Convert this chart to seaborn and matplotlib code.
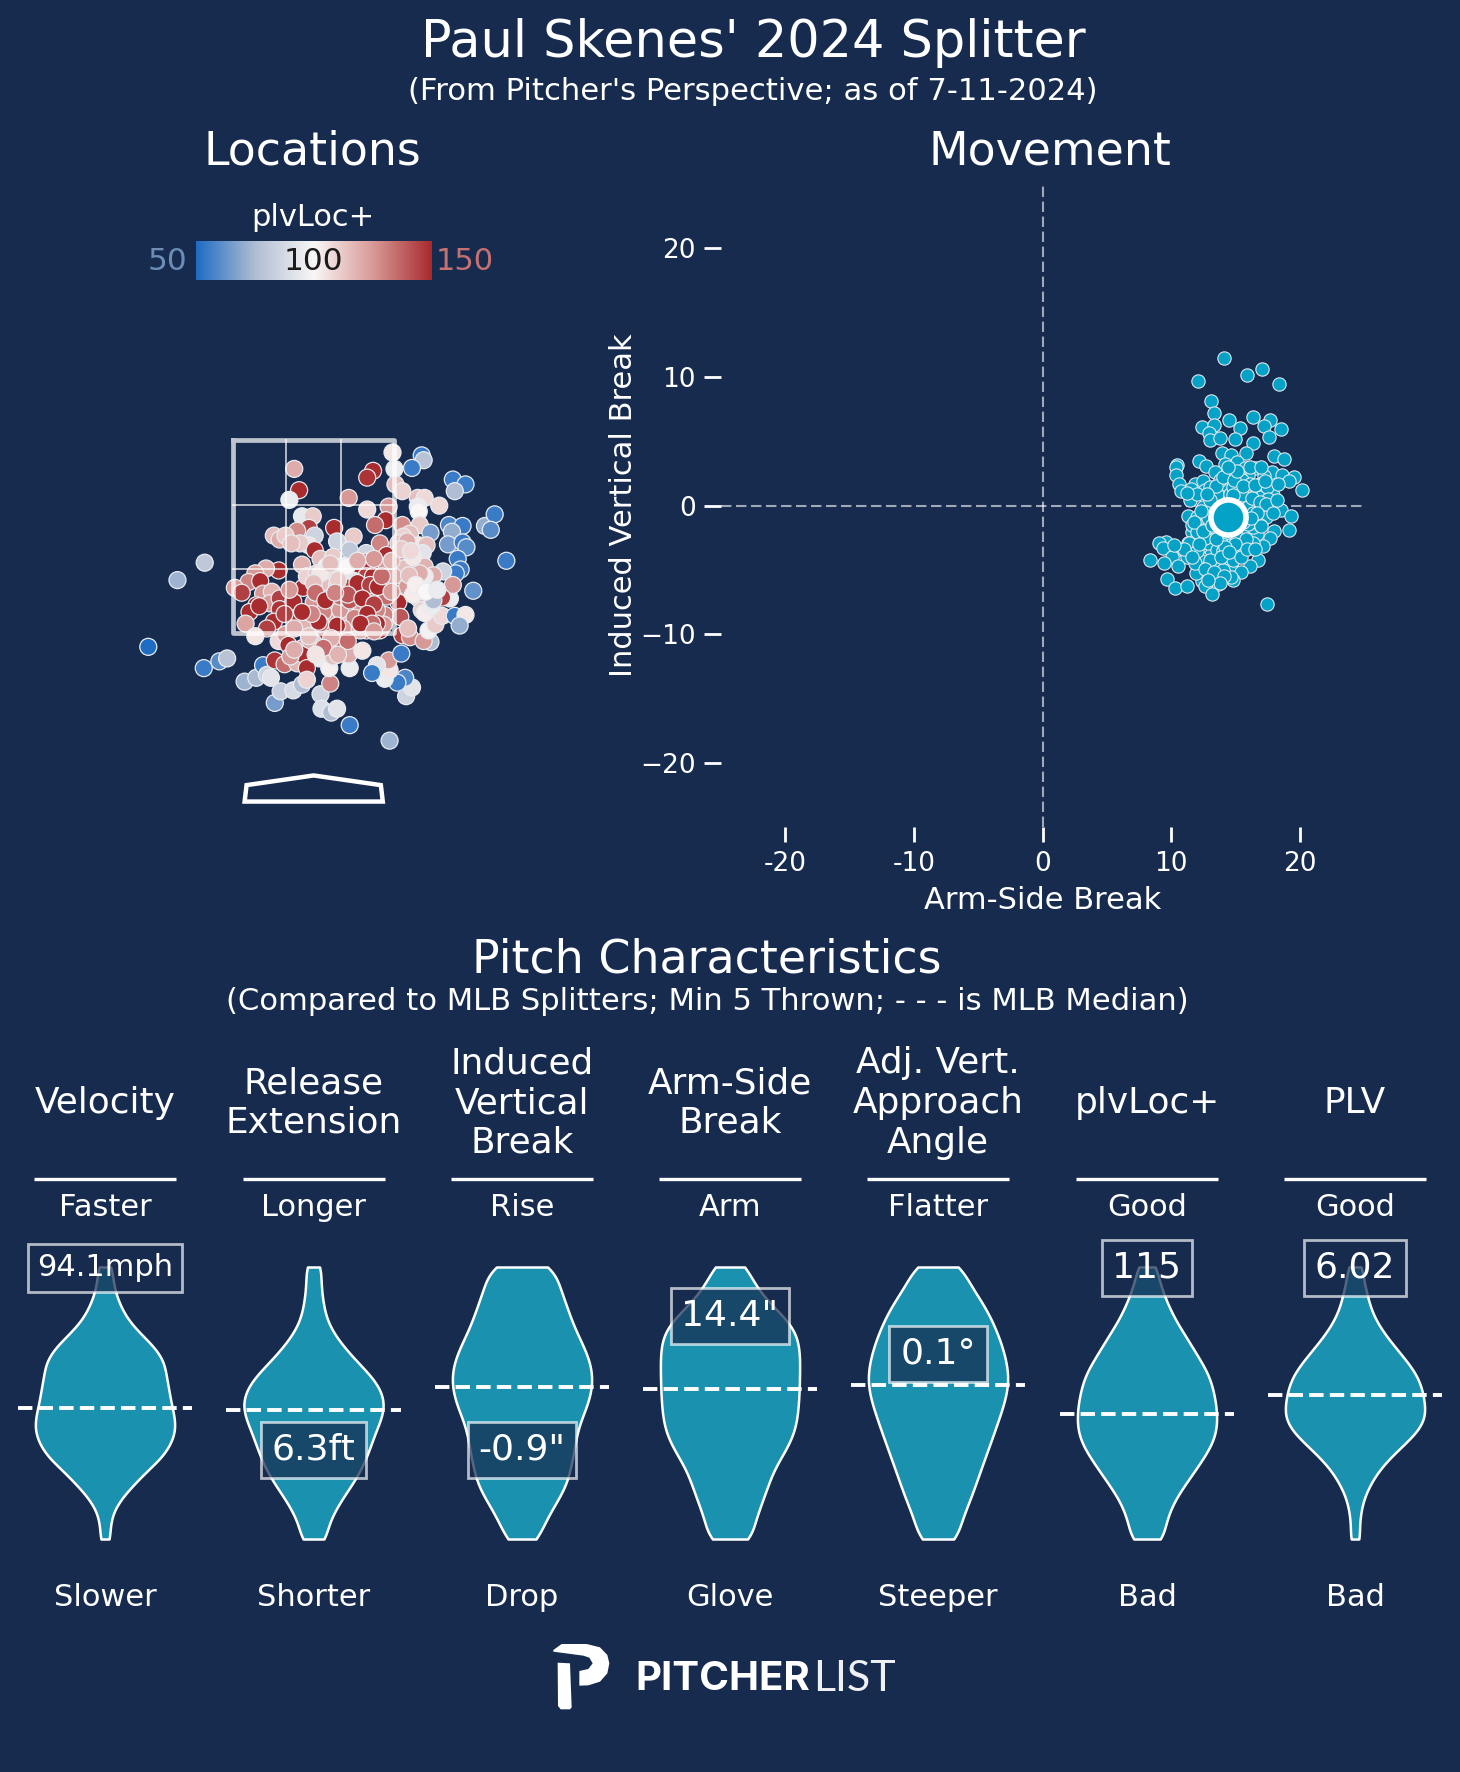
"""Paul Skenes 2024 splitter card: locations, movement and pitch characteristic violins."""
import matplotlib
matplotlib.use("Agg")
import matplotlib.pyplot as plt
import numpy as np
import seaborn as sns
from matplotlib.patches import Polygon

W, H = 1460, 1772
BG = "#172b4f"
TEAL = "#1a91ae"
DOT = "#03a2c6"

# pitch locations, feet from centre of plate and feet above ground, with plvLoc+ grade
loc_x = [-1.70, -1.40, -1.12, -1.13, -0.97, -0.89, -0.71, -0.59, -0.52, -0.48, -0.44, -0.40, -0.34, -0.21, -0.12,
         0.07, 0.08, 0.18, 0.24, 0.37, 0.78, 0.95, 1.01, 0.94, 0.86, 0.73, 0.78, 0.77, 0.65, 0.60, 0.90, 0.37, 0.17,
         0.06, 0.16, 0.81, 1.11, 1.13, 1.01, 0.83, 0.61, 0.55, -0.20, -0.15, 0.84, 0.91, 0.36, -0.25, 1.43, 1.56, 1.45,
         1.07, 1.14, 1.29, 1.07, 1.08, 0.55, 0.77, -0.12, -0.01, 0.74, 0.63, 0.91, 1.09, 1.39, 1.53, 1.42, 1.20, -0.05,
         -0.17, 0.21, -0.41, -0.35, -0.29, 0.01, 0.24, 0.41, 0.99, 0.92, 1.38, 1.53, 1.57, 1.76, 1.86, 1.82, 1.98,
         -0.05, -0.14, -0.23, 0.01, 0.37, 0.68, 0.75, 1.08, 1.16, 1.12, 1.48, 1.51, 1.46, 1.33, 1.64, -0.12, 0.07, 0.20,
         0.13, 0.17, 0.30, 0.54, 0.54, 0.59, 0.66, 0.42, 0.54, 0.75, 0.89, 0.97, 0.92, 1.14, 1.23, 1.09, 1.14, 0.42,
         -0.36, -0.49, -0.60, -0.67, -0.55, -0.81, -0.74, -0.52, -0.43, -0.59, -0.45, -0.35, -0.35, -0.21, -0.11, 0.00,
         0.13, 0.08, 0.24, -0.07, 0.03, 0.32, 0.20, 0.33, 0.44, 0.58, 0.61, 0.70, 0.56, 0.73, 0.87, 0.96, 0.87, 0.89,
         0.73, 0.54, -0.66, -0.70, -0.56, -0.41, -0.48, -0.14, -0.07, 0.07, 0.13, 0.20, 0.29, 0.10, 0.41, 0.54, 0.56,
         0.68, 0.72, 0.48, -0.60, -0.36, -0.29, -0.26, -0.11, 0.00, 0.15, 0.32, 0.36, 0.50, -0.40, -0.30, -0.17, -0.11,
         -0.07, 0.20, -0.07, 0.91, 0.99, 0.97, 1.20, 1.13, 1.18, 1.25, 1.32, 1.45, 1.56, 1.50, 1.40, 1.43, 1.32, 1.20,
         1.08, 1.11, 1.14, 1.21, 1.23, 1.02, 0.34, 0.25, 0.07, 0.17, 0.48, 0.41, 0.49, 0.65, 0.37, 0.27, 0.61, 0.51,
         0.75, 0.82, 0.07, -0.04, 0.24, -0.24, 0.07, 0.65, 0.27, 0.37, 0.00, 0.87, 0.96, 1.02, 1.09,
         0.45, 0.58, 0.66, 0.35, 0.50, 0.62, 0.42, 0.55, 0.60, 0.48, 0.30, 0.24, 0.05, -0.02, -0.12, -0.20, -0.30,
         -0.25, 0.02, 0.12, 0.22, 0.45, 0.62, 0.70, 0.80, 0.80, 0.62, 0.35, 0.18, -0.05, 0.10, 0.25, -0.20, 0.02,
         0.90, 1.00, 0.98, 1.05, 1.15, 1.27]
loc_z = [1.36, 2.05, 2.23, 1.14, 1.21, 1.24, 1.00, 1.04, 1.17, 1.07, 1.04, 0.78, 0.90, 0.91, 0.97,
         0.87, 0.72, 0.68, 0.72, 0.55, 0.39, 0.85, 0.94, 1.04, 0.99, 1.03, 1.12, 1.22, 1.17, 1.09, 1.29, 1.14, 0.98,
         1.24, 1.14, 3.37, 3.34, 3.29, 3.21, 3.20, 3.18, 3.11, 3.20, 2.98, 3.04, 2.97, 2.90, 2.88, 3.09, 3.04, 2.97,
         2.90, 2.90, 2.82, 2.81, 2.76, 2.78, 2.81, 2.71, 2.71, 2.67, 2.62, 2.62, 2.62, 2.62, 2.61, 2.55, 2.54, 2.59,
         2.56, 2.59, 2.51, 2.47, 2.51, 2.51, 2.45, 2.50, 2.53, 2.50, 2.42, 2.44, 2.39, 2.61, 2.73, 2.57, 2.25,
         2.41, 2.43, 2.43, 2.36, 2.36, 2.43, 2.31, 2.41, 2.41, 2.33, 2.27, 2.16, 2.12, 2.14, 1.94, 2.21, 2.27, 2.29,
         2.19, 2.15, 2.20, 2.33, 2.24, 2.21, 2.15, 2.12, 2.09, 2.19, 2.26, 2.19, 2.17, 2.19, 2.10, 2.09, 2.09, 2.04,
         2.15, 2.17, 2.12, 2.03, 2.04, 1.97, 1.92, 1.91, 1.93, 1.79, 1.81, 1.86, 1.75, 1.83, 1.97, 1.82,
         1.94, 2.02, 2.00, 2.09, 2.12, 1.98, 1.79, 1.78, 1.86, 1.84, 1.97, 1.90, 1.74, 2.05, 2.00, 1.98, 1.82, 1.67,
         1.69, 1.65, 1.72, 1.60, 1.78, 1.62, 1.55, 1.66, 1.59, 1.55, 1.50, 1.65, 1.64, 1.72, 1.53, 1.53, 1.60,
         1.53, 1.59, 1.53, 1.47, 1.42, 1.49, 1.38, 1.35, 1.40, 1.33, 1.39, 1.28, 1.32, 1.22, 1.18, 1.19, 1.28,
         1.14, 1.26, 1.02, 1.48, 1.46, 1.55, 1.41, 1.42, 1.53, 1.59, 1.68, 1.68, 1.69, 1.58, 1.86, 2.00, 1.87, 1.91,
         1.86, 1.74, 1.71, 1.78, 1.84, 1.90, 2.19, 2.05, 2.12, 2.22, 1.95, 1.74, 1.78, 1.74, 1.60, 1.74, 2.09, 1.98,
         1.88, 2.09, 1.60, 1.43, 1.40, 1.26, 1.33, 1.60, 1.88, 1.84, 2.02, 2.43, 2.45, 2.29, 2.12,
         2.02, 2.00, 1.98, 1.90, 1.86, 1.80, 1.66, 1.70, 1.60, 1.60, 1.55, 1.58, 1.62, 1.70, 1.72, 1.55, 1.70,
         1.95, 1.92, 1.84, 1.92, 2.25, 2.27, 2.09, 2.25, 1.93, 1.52, 1.42, 1.45, 1.47, 1.35, 1.28, 1.33, 1.28,
         2.37, 2.35, 2.10, 2.00, 1.93, 1.95]
loc_plus = [50, 72, 80, 55, 60, 78, 72, 74, 55, 85, 92, 65, 82, 88, 75,
            85, 90, 75, 92, 55, 72, 85, 92, 58, 55, 95, 105, 125, 92, 55, 55, 95, 130,
            95, 102, 104, 55, 78, 55, 95, 150, 148, 120, 150, 115, 110, 125, 95, 55, 55, 75,
            115, 108, 108, 95, 100, 108, 125, 94, 112, 150, 135, 128, 112, 58, 55, 70, 65, 145,
            128, 150, 115, 120, 112, 85, 85, 112, 115, 110, 65, 55, 60, 70, 55, 60, 55,
            105, 112, 115, 150, 80, 130, 150, 104, 115, 92, 55, 55, 55, 85, 62, 118, 115, 112,
            100, 110, 95, 85, 130, 150, 150, 150, 145, 125, 130, 118, 115, 118, 120, 100, 95, 92,
            150, 120, 125, 130, 150, 125, 145, 125, 118, 150, 125, 145, 148, 150, 150, 125,
            122, 115, 115, 110, 112, 145, 150, 112, 130, 135, 130, 150, 150, 140, 150, 125, 150, 140,
            130, 125, 150, 122, 150, 150, 145, 150, 118, 150, 150, 125, 145, 130, 115, 150, 140,
            150, 125, 118, 105, 108, 125, 150, 125, 115, 150, 130, 120, 105, 148, 135, 118, 150,
            150, 115, 110, 145, 128, 115, 75, 125, 98, 112, 108, 55, 104, 70, 95, 125, 145, 90,
            115, 110, 103, 95, 75, 103, 100, 112, 104, 115, 130, 135, 125, 130, 120, 125, 150, 150,
            135, 120, 135, 120, 140, 125, 130, 150, 135, 140, 115, 115, 120, 104, 120,
            150, 145, 150, 140, 150, 145, 130, 150, 135, 150, 125, 150, 150, 130, 150, 120, 145,
            125, 135, 150, 130, 120, 125, 135, 118, 125, 125, 135, 120, 115, 135, 118, 120, 105,
            112, 108, 115, 102, 100, 95]

# movement in inches
arm_break = [14.09, 15.93, 17.07, 18.37, 12.07, 13.07, 13.37, 14.51, 16.35, 12.44, 13.37, 12.95, 13.06, 13.81, 15.36,
             15.00, 17.67, 17.20, 18.57, 17.62, 16.35, 15.85, 13.96, 14.64, 17.98, 18.80, 12.20, 12.72, 10.49, 10.36,
             10.36, 14.20, 15.10, 15.78, 16.50, 14.74, 13.39, 17.85, 18.60, 17.25, 19.56, 19.20, 20.20, 10.65, 10.78,
             11.86, 12.46, 11.53, 12.64, 14.09, 15.10, 15.49, 16.71, 17.18, 17.90, 16.00, 15.36, 13.55, 14.58, 11.50,
             12.50, 11.35, 12.00, 12.07, 17.23, 18.57, 19.33, 19.17, 18.00, 17.72, 17.17, 16.79, 15.90, 16.66, 15.88,
             17.04, 16.79, 16.00, 17.40, 11.60, 12.00, 13.08, 14.40, 13.08, 10.60, 11.22, 9.58, 9.09, 9.35, 10.08,
             8.37, 9.43, 10.52, 12.28, 13.60, 14.23, 14.97, 14.64, 16.16, 15.44, 14.84, 14.64, 13.42, 12.44, 11.94,
             12.64, 13.65, 13.16, 9.71, 10.28, 11.24, 17.44, 13.80, 15.10, 12.25, 11.35, 12.90, 13.55, 14.84, 15.36,
             11.86, 12.77, 14.07, 12.50, 14.33, 16.40, 16.90, 14.84, 16.90, 17.44, 13.80, 13.00, 15.50, 16.15, 17.57,
             11.60, 12.00, 16.40, 14.07, 12.64, 16.40, 16.00, 13.30, 15.60,
             12.0, 13.0, 13.5, 14.0, 14.9, 15.6, 16.3, 16.9, 17.4, 17.9, 18.2, 16.7, 17.0, 16.2, 15.8, 15.0, 14.2,
             13.5, 12.9, 12.3, 11.8, 11.4, 12.0, 12.5, 11.0, 10.2, 13.0, 13.9, 14.5, 15.4, 15.9, 16.5, 12.6, 13.3,
             14.1, 13.8, 12.9, 11.6, 12.2, 13.2, 16.5, 17.3, 18.3, 15.1, 14.4, 16.1, 17.0, 14.8, 12.8, 11.2]
ind_vert = [11.50, 10.13, 10.65, 9.43, 9.66, 8.16, 7.23, 6.66, 6.92, 6.09, 6.24, 5.65, 5.08, 5.26, 6.01,
            5.16, 6.63, 6.17, 5.93, 5.34, 4.87, 4.07, 4.09, 3.91, 3.86, 3.58, 3.45, 3.08, 3.13, 2.98,
            2.38, 3.26, 3.39, 2.95, 2.95, 2.72, 2.59, 2.64, 2.38, 2.28, 2.18, 1.92, 1.22, 1.71, 1.14,
            1.71, 1.94, 1.30, 1.19, 1.71, 1.19, 0.80, 1.19, 0.93, 0.80, 2.36, 2.23, 0.93, 0.93, 0.44,
            -0.10, -0.78, -0.88, -1.48, -0.28, -0.36, -0.85, -1.87, -2.02, -2.54, -3.13, -4.20, -2.05, -2.18, -2.95,
            -1.14, 0.03, -0.10, -0.88, -2.05, -2.44, -2.02, -3.08, -3.47, -3.37, -3.99, -2.82, -2.95, -3.34, -3.99,
            -4.27, -4.51, -4.72, -4.25, -4.38, -3.94, -3.60, -4.64, -4.69, -5.16, -5.80, -5.57, -5.41, -5.85, -5.28,
            -6.27, -6.11, -6.87, -5.70, -6.40, -6.27, -7.69, -2.70, -2.44, -3.20, -2.95, -2.95, -3.47, -4.25, -3.47,
            -4.50, -4.77, -5.03, -1.92, -2.05, -1.66, -1.53, 1.45, 1.70, 1.45, 1.97, 1.45, 1.97, 1.71, 0.54,
            -1.50, -2.05, -2.95, -3.47, -2.56, -0.62, -1.40, -1.66, -1.27,
            0.9, 0.4, 1.5, 2.2, 2.0, 1.5, 0.6, 0.3, 0.1, -0.6, 0.4, -0.6, -1.6, -1.0, -2.6, -3.0, -3.2,
            -2.6, -1.0, -0.4, -1.3, -2.9, -3.5, -2.0, -3.4, -3.1, -4.2, -4.0, -3.6, -4.0, -3.4, -3.4, -4.9, -5.2,
            -5.5, -6.0, -5.8, -4.0, -3.0, -1.5, 1.6, 1.9, 1.7, 2.7, 3.0, 3.0, 3.0, 0.8, 0.9, 1.0]
mean_break, mean_vert = 14.4, -0.9

# violin shapes: share of the MLB sample at each height of the range, 0 at bottom to 100 at top
range_levels = [100, 95, 90, 85, 80, 75, 70, 65, 60, 55, 50, 45, 40, 35, 30, 25, 20, 15, 10, 5, 0]
velocity_n = [30, 33, 45, 68, 100, 155, 215, 250, 257, 268, 277, 292, 297, 277, 240, 175, 120, 68, 33, 21, 22]
extension_n = [34, 30, 35, 43, 57, 88, 132, 183, 240, 280, 296, 286, 260, 240, 220, 194, 160, 120, 86, 60, 54]
ivb_n = [150, 145, 170, 188, 208, 232, 263, 285, 296, 292, 277, 252, 228, 223, 212, 200, 188, 155, 118, 88, 74]
hb_n = [78, 94, 134, 188, 254, 288, 296, 298, 296, 296, 292, 288, 278, 254, 218, 182, 164, 142, 122, 98, 105]
vaa_n = [112, 121, 162, 200, 228, 252, 272, 287, 296, 292, 277, 258, 238, 218, 197, 177, 157, 137, 113, 90, 90]
loc_n = [43, 50, 70, 94, 122, 160, 194, 230, 263, 278, 290, 295, 294, 275, 240, 200, 160, 120, 94, 75, 74]
plv_n = [30, 37, 50, 65, 90, 128, 174, 222, 262, 283, 293, 297, 268, 210, 148, 98, 63, 37, 24, 18, 21]
violin_counts = [velocity_n, extension_n, ivb_n, hb_n, vaa_n, loc_n, plv_n]

medians = [48.0, 47.4, 55.7, 55.3, 56.5, 46.1, 53.1]
metric_names = ["Velocity", "Release\nExtension", "Induced\nVertical\nBreak", "Arm-Side\nBreak",
                "Adj. Vert.\nApproach\nAngle", "plvLoc+", "PLV"]
top_labels = ["Faster", "Longer", "Rise", "Arm", "Flatter", "Good", "Good"]
bottom_labels = ["Slower", "Shorter", "Drop", "Glove", "Steeper", "Bad", "Bad"]
value_labels = ["94.1mph", "6.3ft", "-0.9\"", "14.4\"", "0.1°", "115", "6.02"]
value_box_y = [1268, 1450, 1450, 1316, 1354, 1268, 1268]
value_sizes = [22, 26, 26, 26, 26, 26, 26]
violin_cx = [105, 313.5, 522, 730, 938, 1147, 1355]

xtick_vals = [-20, -10, 0, 10, 20]
xtick_text = ["-20", "-10", "0", "10", "20"]
ytick_vals = [-20, -10, 0, 10, 20]


def px_axes(fig, x0, y0, x1, y1):
    ax = fig.add_axes([x0 / W, 1 - y1 / H, (x1 - x0) / W, (y1 - y0) / H])
    ax.patch.set_alpha(0)
    return ax


def px_text(fig, x, y, s, size, **kw):
    kw.setdefault("color", "white")
    kw.setdefault("ha", "center")
    kw.setdefault("va", "center")
    return fig.text(x / W, 1 - y / H, s, fontsize=size, **kw)


def draw_locations(fig, cmap):
    ax = px_axes(fig, 100, 420, 540, 830)
    sns.scatterplot(x=loc_x, y=loc_z, hue=loc_plus, hue_norm=(50, 150), palette=cmap, s=150,
                    edgecolor="#e8ebf0", linewidth=0.9, legend=False, ax=ax)
    ax.set_xlim((100 - 313.7) / 97.3, (540 - 313.7) / 97.3)
    ax.set_ylim(1.5 + (633.3 - 830) / 96.7, 1.5 + (633.3 - 420) / 96.7)
    ax.axis("off")

    # strike zone goes on top of the dots
    zone = dict(color="white", alpha=0.72, zorder=5, solid_capstyle="projecting")
    ax.plot([-0.83, 0.83, 0.83, -0.83, -0.83], [3.5, 3.5, 1.5, 1.5, 3.5], lw=3.4, **zone)
    ax.plot([-0.28, -0.28], [1.5, 3.5], lw=1.3, **zone)
    ax.plot([0.28, 0.28], [1.5, 3.5], lw=1.3, **zone)
    ax.plot([-0.83, 0.83], [2.83, 2.83], lw=1.3, **zone)
    ax.plot([-0.83, 0.83], [2.17, 2.17], lw=1.3, **zone)

    plate = Polygon([(-0.71, -0.24), (0.71, -0.24), (0.69, -0.07), (0, 0.03), (-0.69, -0.07)],
                    closed=True, fill=False, ec="white", lw=3.2, joinstyle="miter")
    ax.add_patch(plate)

    cax = px_axes(fig, 196, 241, 432, 280)
    cax.imshow(np.linspace(50, 150, 256)[None, :], aspect="auto", cmap=cmap, vmin=50, vmax=150)
    cax.axis("off")
    px_text(fig, 313, 218, "plvLoc+", 22)
    px_text(fig, 187, 261, "50", 22.5, ha="right", color="#6d8cb6")
    px_text(fig, 436, 261, "150", 22, ha="left", color="#c67171")
    px_text(fig, 313, 261, "100", 22.5, color="#1a1a1a")


def draw_movement(fig):
    ax = px_axes(fig, 721, 184, 1364, 827)
    dash = dict(color="white", alpha=0.6, lw=1.5, linestyle=(0, (5, 2.2)), zorder=1)
    ax.axhline(0, **dash)
    ax.axvline(0, **dash)
    sns.scatterplot(x=arm_break, y=ind_vert, color=DOT, s=92, edgecolor="#dfe8ee", linewidth=0.8,
                    legend=False, zorder=3, ax=ax)
    ax.scatter([mean_break], [mean_vert], s=640, color=DOT, edgecolor="white", linewidth=4, zorder=4)
    ax.set_xlim(-25, 25)
    ax.set_ylim(-25, 25)
    ax.set_xticks(xtick_vals, labels=xtick_text)
    ax.set_yticks(ytick_vals)
    ax.tick_params(axis="x", bottom=True, colors="white", labelsize=19, length=10.5, width=2, pad=6.5)
    ax.tick_params(axis="y", left=True, colors="white", labelsize=19, length=12.5, width=2, pad=5.5)
    ax.set_xlabel("Arm-Side Break", color="white", fontsize=22, labelpad=7)
    ax.set_ylabel("Induced Vertical Break", color="white", fontsize=22, labelpad=1.5)
    sns.despine(ax=ax, left=True, bottom=True)


def draw_violins(fig):
    for i, counts in enumerate(violin_counts):
        cx = violin_cx[i]
        ax = px_axes(fig, cx - 87, 1250, cx + 87, 1556)
        sample = np.repeat(range_levels, counts)
        sns.violinplot(y=sample, color=TEAL, saturation=1, inner=None, cut=0, density_norm="width",
                       width=0.8, linecolor="white", linewidth=1.8, bw_method=0.18, ax=ax)
        ax.axhline(medians[i], color="white", lw=2.8, linestyle="--", zorder=4)
        ax.set_xlim(-0.5, 0.5)
        ax.set_ylim(100 - (1556 - 1267) / 2.72, 100 + 17 / 2.72)
        ax.axis("off")

        px_text(fig, cx, 1103, metric_names[i], 25.8, linespacing=1.22)
        fig.add_artist(plt.Line2D([(cx - 71) / W, (cx + 71) / W], [1 - 1179 / H, 1 - 1179 / H],
                                  color="white", lw=2.4, solid_capstyle="butt"))
        px_text(fig, cx, 1208, top_labels[i], 22)
        px_text(fig, cx, 1597, bottom_labels[i], 22)
        px_text(fig, cx, value_box_y[i], value_labels[i], value_sizes[i], zorder=6,
                bbox=dict(boxstyle="square,pad=0.3", fc=(0.09, 0.17, 0.31, 0.72),
                          ec=(1, 1, 1, 0.68), lw=2))


def draw_logo(fig):
    ax = px_axes(fig, 520, 1620, 920, 1730)
    ax.set_xlim(0, 1200)
    ax.set_ylim(330, 0)
    ax.axis("off")
    bowl = [(100, 90), (125, 72), (200, 72), (240, 82), (262, 105), (268, 130), (262, 160), (240, 185), (205, 196),
            (178, 197), (178, 153), (205, 147), (218, 130), (208, 113), (190, 107), (100, 95)]
    stem = [(113, 128), (150, 130), (155, 262), (150, 268), (122, 268), (114, 258)]
    ax.add_patch(Polygon(bowl, closed=True, fc="white", ec="none"))
    ax.add_patch(Polygon(stem, closed=True, fc="white", ec="none"))
    ax.text(345, 178, "PITCHER", color="white", fontsize=29, family="Inter", weight="bold", ha="left", va="center")
    ax.text(878, 178, "LIST", color="#eef0f4", fontsize=31, family="Lato", weight="normal", ha="left", va="center")


def main():
    sns.set_theme(style="dark", rc={"axes.facecolor": BG, "figure.facecolor": BG})
    plt.rcParams["font.family"] = ["DejaVu Sans"]
    cmap = sns.blend_palette(["#1f6cc4", "#b0bdd2", "#f9f7f6", "#d89a98", "#a82b2e"], as_cmap=True)

    fig = plt.figure(figsize=(W / 100, H / 100), dpi=100, facecolor=BG)
    px_text(fig, 753, 43, "Paul Skenes' 2024 Splitter", 36.6)
    px_text(fig, 753, 91, "(From Pitcher's Perspective; as of 7-11-2024)", 22.1)
    px_text(fig, 312, 152, "Locations", 33)
    px_text(fig, 1050, 152, "Movement", 33)
    px_text(fig, 707, 960, "Pitch Characteristics", 33)
    px_text(fig, 707, 1001, "(Compared to MLB Splitters; Min 5 Thrown; - - - is MLB Median)", 22.1)

    draw_locations(fig, cmap)
    draw_movement(fig)
    draw_violins(fig)
    draw_logo(fig)

    fig.savefig("out.png", dpi=100, facecolor=BG)
    plt.close(fig)


if __name__ == "__main__":
    main()
